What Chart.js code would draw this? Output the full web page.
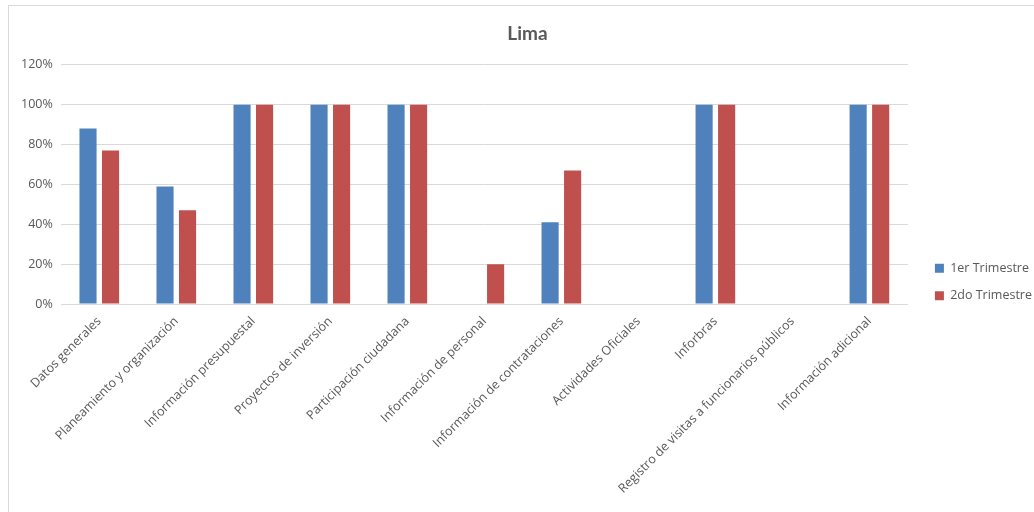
<!DOCTYPE html>
<html>
<head>
<meta charset="utf-8">
<script src="https://cdn.jsdelivr.net/npm/chart.js@4"></script>
<style>
  html, body { margin: 0; padding: 0; background: #fff; overflow: hidden; }
  #wrap { position: absolute; left: 8px; top: 5px; width: 1040px; height: 520px; border: 1px solid #d9d9d9; box-sizing: border-box; }
</style>
</head>
<body>
<div id="wrap"><canvas id="chart"></canvas></div>
<script>
const categories = [
  "Datos generales",
  "Planeamiento y organización",
  "Información presupuestal",
  "Proyectos de inversión",
  "Participación ciudadana",
  "Información de personal",
  "Información de contrataciones",
  "Actividades Oficiales",
  "Inforbras",
  "Registro de visitas a funcionarios públicos",
  "Información adicional"
];
const trimestre1 = [88, 59, 100, 100, 100, 0, 41, 0, 100, 0, 100];
const trimestre2 = [77, 47, 100, 100, 100, 20, 67, 0, 100, 0, 100];
const yTicks = [0, 20, 40, 60, 80, 100, 120];

const fontFamily = "'Open Sans', sans-serif";
const grey = "#595959";

let ctx = document.getElementById("chart").getContext("2d");

new Chart(ctx, {
  type: "bar",
  data: {
    labels: categories,
    datasets: [
      { label: "1er Trimestre", data: trimestre1, backgroundColor: "#4f81bd" },
      { label: "2do Trimestre", data: trimestre2, backgroundColor: "#c0504d" }
    ]
  },
  options: {
    responsive: true,
    maintainAspectRatio: false,
    animation: false,
    categoryPercentage: 0.585,
    barPercentage: 0.76,
    layout: { padding: { left: 4, right: 5, top: 8, bottom: 0 } },
    plugins: {
      title: {
        display: true,
        text: "Lima",
        color: grey,
        font: { family: "Lato, sans-serif", size: 19, weight: "bold" },
        padding: { top: 8, bottom: 20 }
      },
      legend: {
        position: "right",
        // blank title only pushes the items down a bit
        title: { display: true, text: " ", font: { size: 12.5 }, padding: { top: 5, bottom: 6 } },
        labels: {
          color: grey,
          font: { family: fontFamily, size: 12.5 },
          boxWidth: 9,
          boxHeight: 9,
          padding: 15
        }
      },
      tooltip: { enabled: false }
    },
    scales: {
      x: {
        grid: { display: false },
        border: { display: false },
        afterFit: axis => { axis.height = 220; },
        ticks: {
          color: grey,
          font: { family: fontFamily, size: 12.5 },
          maxRotation: 45,
          minRotation: 45,
          autoSkip: false,
          padding: 2
        }
      },
      y: {
        min: 0,
        max: 120,
        afterBuildTicks: axis => { axis.ticks = yTicks.map(v => ({ value: v })); },
        grid: { color: "#d9d9d9", drawTicks: false },
        border: { display: false },
        ticks: {
          color: grey,
          font: { family: fontFamily, size: 12.5 },
          padding: 8,
          callback: v => v + "%"
        }
      },
      // empty space between plot and legend
      yGap: {
        type: "linear",
        position: "right",
        grid: { display: false },
        border: { display: false },
        ticks: { display: false },
        afterFit: axis => { axis.width = 12; }
      }
    }
  }
});
</script>
</body>
</html>
